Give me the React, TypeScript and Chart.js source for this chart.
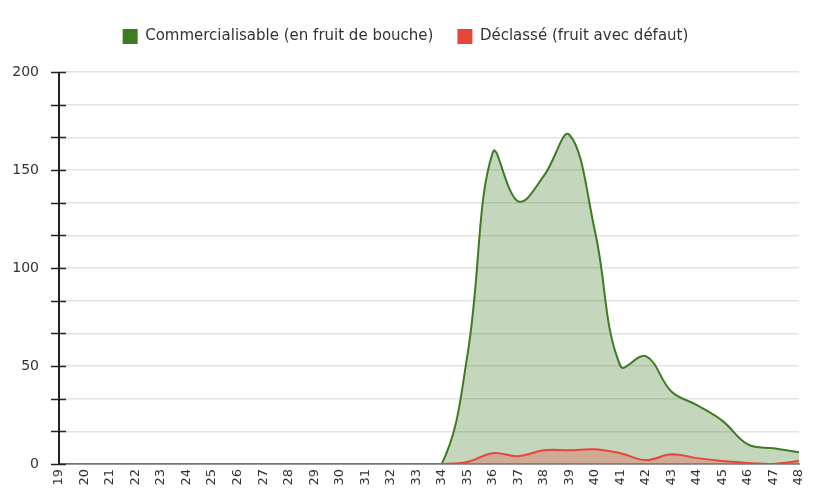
import React, { useEffect, useRef } from "react";
import { Chart, registerables } from "chart.js";

Chart.register(...registerables);

const categories = ["19","20","21","22","23","24","25","26","27","28","29","30","31","32","33","34","35","36","37","38","39","40","41","42","43","44","45","46","47","48"];
const commercialisable = [0,0,0,0,0,0,0,0,0,0,0,0,0,0,0,0,55,159,134,147,168,119,50,55,37,30,22,10,8,6];
const declasse = [0,0,0,0,0,0,0,0,0,0,0,0,0,0,0,0,1,5.5,4,7,7,7.5,5.5,2,5,3,1.5,0.5,0,1.5];
const yTickValues = [0, 50 / 3, 100 / 3, 50, 200 / 3, 250 / 3, 100, 350 / 3, 400 / 3, 150, 500 / 3, 550 / 3, 200];

const FONT = "'DejaVu Sans', sans-serif";

const crossTicks = {
  id: "crossTicks",
  afterDraw(chart: any) {
    const y = chart.scales.y;
    const ctx = chart.ctx;
    const x0 = chart.chartArea.left;
    ctx.save();
    ctx.strokeStyle = "#222";
    ctx.lineWidth = 1.5;
    y.ticks.forEach((t: any, i: number) => {
      const py = Math.round(y.getPixelForTick(i)) + 0.5;
      ctx.beginPath();
      ctx.moveTo(x0 - 8, py);
      ctx.lineTo(x0 + 7, py);
      ctx.stroke();
    });
    ctx.lineWidth = 2;
    ctx.beginPath();
    ctx.moveTo(x0, chart.chartArea.top);
    ctx.lineTo(x0, chart.chartArea.bottom);
    ctx.stroke();
    ctx.restore();
  },
};

export default function App() {
  const ref = useRef<HTMLCanvasElement>(null);
  useEffect(() => {
    if (!ref.current) return;
    const chart = new Chart(ref.current, {
      type: "line",
      data: {
        labels: categories,
        datasets: [
          {
            label: "Commercialisable (en fruit de bouche)",
            data: commercialisable,
            borderColor: "#3d7c22",
            backgroundColor: "rgba(61,124,34,0.3)",
            fill: "origin",
            borderWidth: 2,
            pointRadius: 0,
            tension: 0.4,
            order: 1,
          },
          {
            label: "Déclassé (fruit avec défaut)",
            data: declasse,
            borderColor: "#e8453a",
            backgroundColor: "rgba(232,69,58,0.3)",
            fill: "origin",
            borderWidth: 2,
            pointRadius: 0,
            tension: 0.4,
            order: 0,
          },
        ],
      },
      options: {
        animation: false,
        responsive: false,
        maintainAspectRatio: false,
        layout: { padding: { left: 12, right: 26, top: 5, bottom: 0 } },
        plugins: {
          tooltip: { enabled: false },
          legend: {
            position: "top",
            labels: {
              font: { family: FONT, size: 15 },
              color: "#333",
              boxWidth: 15,
              boxHeight: 15,
              padding: 24,
              generateLabels: (c: any) =>
                c.data.datasets.map((d: any, i: number) => ({
                  text: d.label,
                  fillStyle: d.borderColor,
                  strokeStyle: d.borderColor,
                  lineWidth: 0,
                  hidden: false,
                  datasetIndex: i,
                  fontColor: "#333",
                })),
            },
          },
        },
        scales: {
          x: {
            grid: { display: false, drawTicks: false },
            border: { display: true, color: "#999", width: 2 },
            ticks: {
              font: { family: FONT, size: 13 },
              color: "#333",
              minRotation: 90,
              maxRotation: 90,
              autoSkip: false,
              padding: 5,
            },
            afterFit: (s: any) => { s.height = 31; },
          },
          y: {
            min: 0,
            max: 200,
            afterBuildTicks: (s: any) => {
              s.ticks = yTickValues.map((v) => ({ value: v }));
            },
            grid: { color: "#e3e3e3", lineWidth: 1.5, drawTicks: false },
            border: { display: false },
            ticks: {
              font: { family: FONT, size: 14 },
              color: "#333",
              padding: 20,
              callback: (v: any) => {
                const n = Number(v);
                return Math.abs(n / 50 - Math.round(n / 50)) < 1e-6 ? String(Math.round(n)) : "";
              },
            },
            afterFit: (s: any) => { s.width = 47; },
          },
        },
      },
      plugins: [
        crossTicks,
        {
          id: "legendHeight",
          beforeInit(chart: any) {
            const orig = chart.legend && chart.legend.fit;
            if (chart.legend && orig) {
              chart.legend.fit = function () {
                orig.call(this);
                this.height = 67;
              };
            }
          },
        },
      ],
    });
    return () => chart.destroy();
  }, []);
  return (
    <div style={{ position: "fixed", left: 0, top: 0, width: 825, height: 495, background: "#fff" }}>
      <canvas ref={ref} width={825} height={495} style={{ width: 825, height: 495 }} />
    </div>
  );
}
